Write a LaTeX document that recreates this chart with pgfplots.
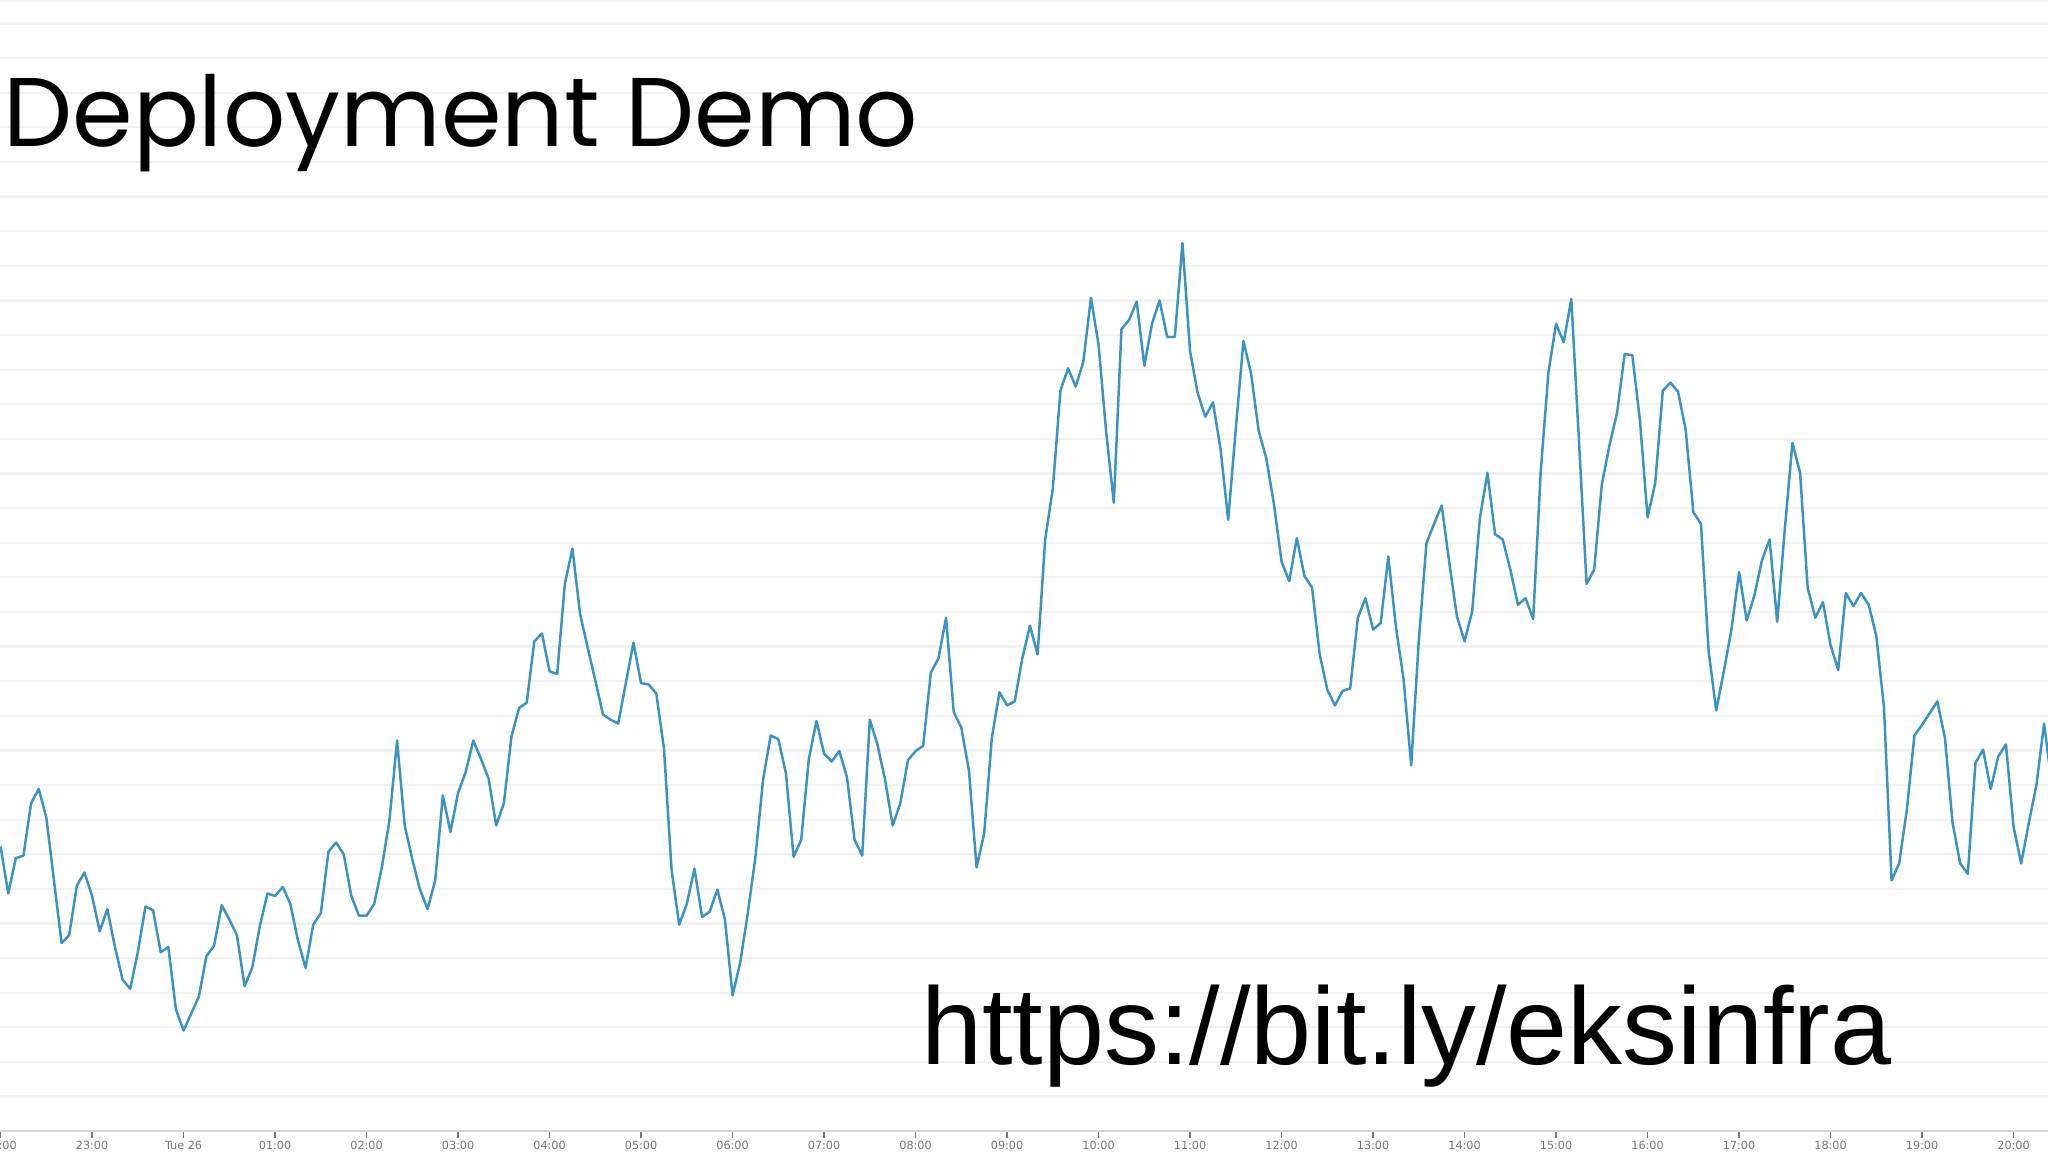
\documentclass[border=0pt]{standalone}
\usepackage{pgfplots}
\usepackage{pgfplotstable}
\pgfplotsset{compat=1.18}
\usepackage{fontspec}
\setmainfont{Liberation Sans}
\newfontfamily\tickfont{DejaVu Sans}
\newfontfamily\titlefont{Poppins}
\newfontfamily\urlfont{Liberation Sans}
\definecolor{linec}{HTML}{3A93C0}
\definecolor{gridc}{HTML}{F1F1F1}
\definecolor{basec}{HTML}{D6D6D6}
\definecolor{tickc}{HTML}{777777}

\pgfplotstableread{
t v
0 218
5 182
10 209
15 211
20 251
25 262
30 240
35 192
40 144
45 150
50 188
55 198
60 180
65 153
70 170
75 141
80 116
85 109
90 137
95 172
100 169
105 137
110 141
115 93
120 77
125 90
130 103
135 134
140 142
145 173
150 162
155 150
160 111
165 125
170 157
175 182
180 180
185 187
190 174
195 146
200 125
205 158
210 167
215 214
220 221
225 212
230 180
235 165
240 165
245 174
250 202
255 238
260 299
265 234
270 208
275 185
280 170
285 192
290 257
295 229
300 259
305 275
310 299
315 285
320 270
325 234
330 251
335 302
340 324
345 328
350 375
355 381
360 352
365 350
370 419
375 446
380 396
385 370
390 345
395 319
400 315
405 312
410 343
415 374
420 343
425 342
430 335
435 293
440 200
445 158
450 174
455 201
460 164
465 168
470 185
475 162
480 104
485 129
490 167
495 210
500 269
505 303
510 300
515 274
520 210
525 223
530 285
535 314
540 289
545 283
550 291
555 271
560 223
565 211
570 315
575 296
580 269
585 234
590 251
595 284
600 291
605 295
610 351
615 362
620 393
625 321
630 309
635 276
640 202
645 228
650 301
655 336
660 326
665 329
670 362
675 387
680 365
685 453
690 492
695 567
700 584
705 570
710 589
715 638
720 602
725 535
730 481
735 614
740 621
745 635
750 586
755 618
760 636
765 608
770 608
775 680
780 597
785 565
790 547
795 558
800 522
805 468
810 538
815 605
820 580
825 536
830 515
835 480
840 436
845 421
850 454
855 425
860 416
865 365
870 338
875 326
880 337
885 339
890 393
895 408
900 384
905 389
910 440
915 386
920 346
925 280
930 376
935 450
940 465
945 479
950 435
955 394
960 375
965 398
970 469
975 504
980 457
985 453
990 430
995 403
1000 408
1005 392
1010 506
1015 581
1020 618
1025 604
1030 637
1035 529
1040 419
1045 430
1050 495
1055 525
1060 550
1065 595
1070 594
1075 544
1080 470
1085 496
1090 567
1095 573
1100 566
1105 537
1110 474
1115 465
1120 368
1125 322
1130 352
1135 384
1140 428
1145 391
1150 410
1155 437
1160 453
1165 390
1170 461
1175 527
1180 504
1185 416
1190 393
1195 405
1200 372
1205 353
1210 412
1215 402
1220 412
1225 403
1230 379
1235 325
1240 192
1245 205
1250 246
1255 303
1260 311
1265 320
1270 329
1275 301
1280 236
1285 205
1290 197
1295 282
1300 292
1305 262
1310 287
1315 296
1320 233
1325 205
1330 236
1335 265
1340 312
1345 266
}\data

\begin{document}
\begin{tikzpicture}
\begin{axis}[
  at={(0,0)}, anchor=south west,
  scale only axis,
  width=16cm, height=8.837cm,
  xmin=-0.385, xmax=1342.6,
  ymin=0, ymax=866,
  axis line style={draw=none},
  ytick={26.5,53,...,848},
  yticklabels={},
  ytick style={draw=none},
  ymajorgrids,
  major grid style={gridc, line width=0.5pt},
  xtick={0,60,...,1320},
  xticklabels={22:00,23:00,Tue 26,01:00,02:00,03:00,04:00,05:00,06:00,07:00,08:00,09:00,10:00,11:00,12:00,13:00,14:00,15:00,16:00,17:00,18:00,19:00,20:00},
  xtick align=outside,
  major tick length=0.05cm,
  xtick style={tickc, line width=0.3pt},
  xticklabel style={font=\tickfont\fontsize{2.5}{3}\selectfont, text=tickc, inner sep=0.5pt},
  clip=true,
]
\addplot[color=linec, line width=0.55pt, line join=round, mark=none] table[x=t, y=v] {\data};
\draw[basec, line width=0.5pt] (rel axis cs:0,0) -- (rel axis cs:1,0);
\draw[gridc, line width=0.6pt] (rel axis cs:0,0.999) -- (rel axis cs:1,0.999);
\end{axis}
\node[anchor=base west, inner sep=0pt, font=\titlefont\fontsize{21.7}{25}\selectfont] at (0.02,7.69) {Deployment Demo};
\node[anchor=base west, inner sep=0pt, font=\urlfont\fontsize{24.4}{28}\selectfont] at (7.19,0.52) {https://bit.ly/eksinfra};
\pgfresetboundingbox
\useasboundingbox (0,-0.163) rectangle (16,8.837);
\end{tikzpicture}
\end{document}
